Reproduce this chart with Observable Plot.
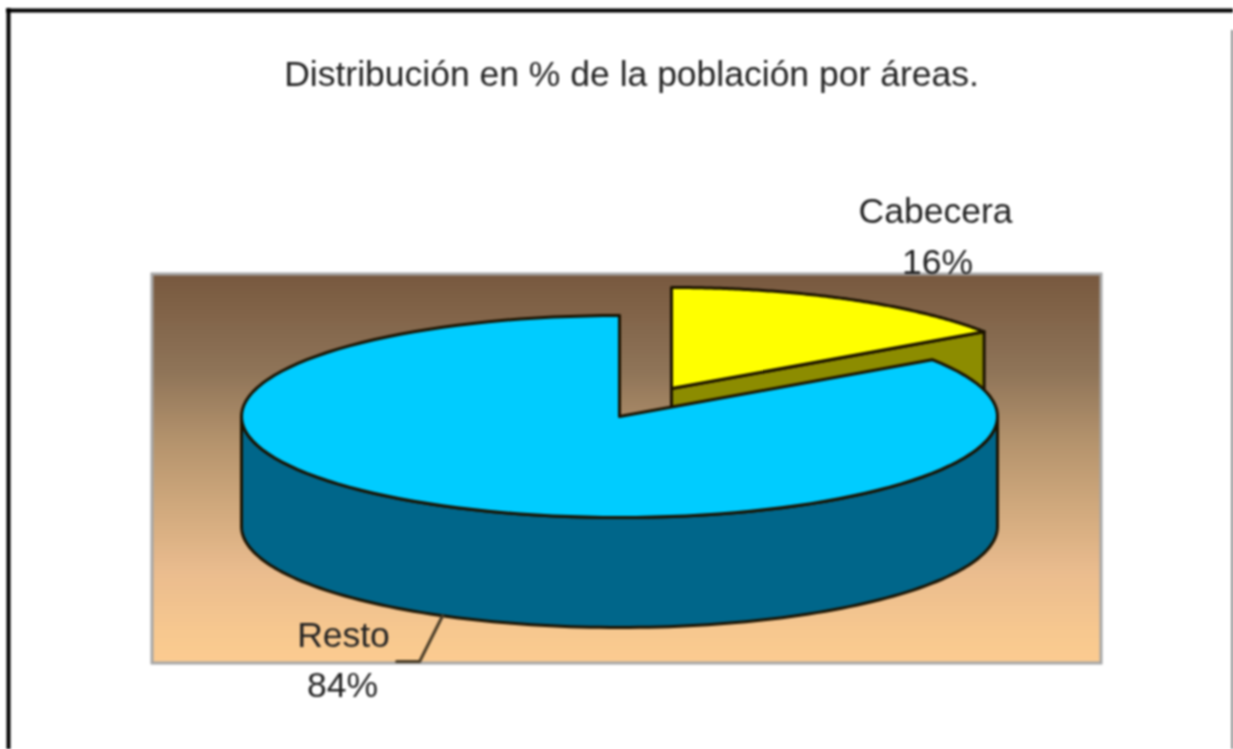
<!DOCTYPE html>
<html>
<head>
<meta charset="utf-8">
<style>html,body{margin:0;padding:0;background:#fff;overflow:hidden}svg{display:block}</style>
<script src="https://cdn.jsdelivr.net/npm/d3@7"></script>
<script src="https://cdn.jsdelivr.net/npm/@observablehq/plot@0.6"></script>
</head>
<body>
<script>
const titleText = "Distribución en % de la población por áreas.";
const categories = ["Cabecera", "Resto"];
const shares = [15.5, 84.5];
const shareLabels = ["16%", "84%"];
const colors = ["#ffff00", "#00ccff"];
const sideColors = ["#8c8c00", "#00668a"];
const panelStops = [274, 370, 437, 503, 570, 637, 663];
const panelColors = ["#78593f", "#8f7458", "#b3926c", "#cfa87c", "#eabc8e", "#f8c98f", "#fccb90"];

// drawing geometry of the tilted pie, in page units
const rx = 378, ry = 101, depth = 110;
const centers = [[671, 388], [619, 416]];
const panel = {x1: 152, x2: 1101, y1: 274, y2: 663};
const bandRows = d3.range(panel.y1, panel.y2, 4);

const angle = s => s / 100 * 2 * Math.PI;
const rim = (c, a, drop = 0) => ({x: c[0] + rx * Math.sin(a), y: c[1] - ry * Math.cos(a) + drop});
const arc = (c, a0, a1, drop = 0) =>
  d3.range(0, 121).map(i => rim(c, a0 + (a1 - a0) * i / 120, drop));
const apex = (c, drop = 0) => ({x: c[0], y: c[1] + drop});
const closed = pts => [...pts, pts[0]];

const cut = angle(shares[0]);
const smallTop = closed([apex(centers[0]), ...arc(centers[0], 0, cut)]);
const smallFace = closed([apex(centers[0]), rim(centers[0], cut), rim(centers[0], cut, depth), apex(centers[0], depth)]);
const bigTop = closed([apex(centers[1]), ...arc(centers[1], cut, 2 * Math.PI)]);
const bigWall = closed([...arc(centers[1], Math.PI / 2, 3 * Math.PI / 2), ...arc(centers[1], 3 * Math.PI / 2, Math.PI / 2, depth)]);

const mid = angle(shares[0] + shares[1] / 2);
const anchor = rim(centers[1], mid, depth);
const leader = [anchor, {x: anchor.x - 23, y: 661}, {x: anchor.x - 46, y: 661}];

const labels = [
  {x: 935, y: 222, t: categories[0]},
  {x: 937, y: 273, t: shareLabels[0]},
  {x: 343, y: 646, t: categories[1]},
  {x: 342, y: 696, t: shareLabels[1]}
];

const solid = (data, fill) => Plot.line(data, {
  x: "x", y: "y", fill, stroke: "#1a1200", strokeWidth: 3, strokeLinejoin: "round"
});

const chart = Plot.plot({
  width: 1233, height: 749,
  margin: 0,
  x: {type: "identity", axis: null},
  y: {type: "identity", axis: null},
  color: {type: "linear", domain: panelStops, range: panelColors},
  style: {background: "#fff", filter: "blur(1px)"},
  marks: [
    Plot.rect(bandRows, {
      x1: () => panel.x1, x2: () => panel.x2,
      y1: d => d, y2: d => Math.min(d + 4, panel.y2),
      fill: d => d, shapeRendering: "crispEdges"
    }),
    Plot.rect([panel], {x1: "x1", x2: "x2", y1: "y1", y2: "y2", fill: "none", stroke: "#a6a6a6", strokeWidth: 3}),
    solid(smallFace, sideColors[0]),
    solid(smallTop, colors[0]),
    solid(bigWall, sideColors[1]),
    solid(bigTop, colors[1]),
    Plot.line(leader, {x: "x", y: "y", stroke: "#4a3d28", strokeWidth: 3}),
    Plot.text([{x: 631, y: 85, t: titleText}], {
      x: "x", y: "y", text: "t", fontSize: 35.5, fill: "#222",
      fontFamily: "Liberation Sans", lineAnchor: "bottom", textAnchor: "middle"
    }),
    Plot.text(labels, {
      x: "x", y: "y", text: "t", fontSize: 35.5, fill: "#222",
      fontFamily: "Liberation Sans", lineAnchor: "bottom", textAnchor: "middle"
    }),
    Plot.ruleY([10], {x1: () => 6, x2: () => 1233, stroke: "#000", strokeWidth: 4}),
    Plot.ruleX([8], {y1: () => 8, y2: () => 749, stroke: "#000", strokeWidth: 4}),
    Plot.ruleX([1232], {y1: () => 30, y2: () => 749, stroke: "#555", strokeWidth: 2})
  ]
});
document.body.append(chart);
</script>
</body>
</html>
